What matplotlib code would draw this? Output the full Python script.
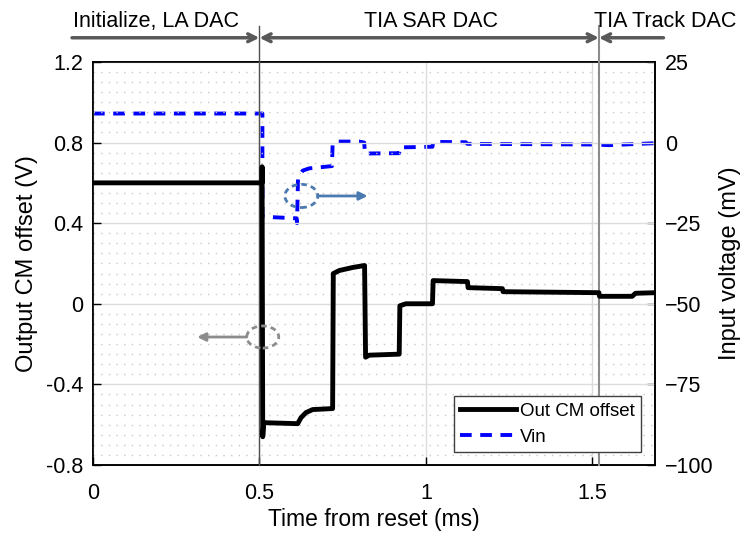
import matplotlib
matplotlib.use("Agg")
import matplotlib.pyplot as plt
from matplotlib.patches import Ellipse
from matplotlib.ticker import MultipleLocator

plt.rcParams['font.family'] = ['Liberation Sans', 'DejaVu Sans']

# Out CM offset (V), left axis
t_cm = [0, 0.508, 0.508, 0.510, 0.513, 0.615, 0.625, 0.64, 0.66, 0.72,
        0.722, 0.74, 0.78, 0.816, 0.819, 0.83, 0.92, 0.922, 0.94, 1.02,
        1.022, 1.125, 1.127, 1.23, 1.232, 1.52, 1.522, 1.62, 1.63, 1.69]
v_cm = [0.60, 0.60, 0.68, -0.66, -0.59, -0.595, -0.565, -0.54, -0.525, -0.52,
        0.15, 0.165, 0.18, 0.19, -0.265, -0.255, -0.25, -0.01, 0.0, 0.0,
        0.115, 0.11, 0.08, 0.075, 0.06, 0.055, 0.037, 0.037, 0.052, 0.055]

# Vin (mV), right axis
t_vin = [0, 0.509, 0.509, 0.612, 0.613, 0.616, 0.63, 0.65, 0.718, 0.72,
         0.73, 0.80, 0.815, 0.817, 0.92, 0.922, 1.02, 1.022, 1.12, 1.125,
         1.5, 1.55, 1.62, 1.69]
v_vin = [9, 9, -23, -23.5, -25, -11, -8.7, -8, -7.3, -0.3,
         0.3, 0.3, 0, -3.4, -3.3, -1.5, -1.3, 0.2, 0.1, -0.4,
         -0.6, -0.8, -0.5, -0.2]

phase_labels = ["Initialize, LA DAC", "TIA SAR DAC", "TIA Track DAC"]
phase_edges = [0.5, 1.52]

fig = plt.figure(figsize=(7.44, 5.41), dpi=100)
ax = fig.add_axes([0.125, 0.1405, 0.756, 0.745])
ax2 = ax.twinx()

ax.set_xlim(0, 1.69)
ax.set_ylim(-0.8, 1.2)
ax2.set_ylim(-100, 25)
ax.set_xticks([0, 0.5, 1, 1.5])
ax.set_xticklabels(["0", "0.5", "1", "1.5"])
ax.set_yticks([-0.8, -0.4, 0, 0.4, 0.8, 1.2])
ax.set_yticklabels(["-0.8", "-0.4", "0", "0.4", "0.8", "1.2"])
ax2.set_yticks([-100, -75, -50, -25, 0, 25])
ax.yaxis.set_minor_locator(MultipleLocator(0.05))

ax.grid(True, which='major', color='#dcdcdc', lw=1)
ax.grid(True, which='minor', axis='y', color='#c8c8c8', lw=1, linestyle=(0, (1, 4.5)))
ax.tick_params(which='minor', length=0)
for a in (ax, ax2):
    a.tick_params(direction='in', labelsize=15.5, length=6, width=1)
    for s in a.spines.values():
        s.set_linewidth(1.2)
ax.tick_params(axis='x', pad=13)
ax.tick_params(axis='y', pad=7)
ax2.tick_params(axis='y', pad=7)

ax.set_xlabel("Time from reset (ms)", fontsize=16.5, labelpad=3)
ax.set_ylabel("Output CM offset (V)", fontsize=17, labelpad=6)
ax2.set_ylabel("Input voltage (mV)", fontsize=17, labelpad=4)

# phase boundary lines
ax.axvline(phase_edges[0], ymin=0, ymax=1.09, color='#505050', lw=1, clip_on=False, zorder=3)
ax.axvline(phase_edges[1], ymin=0, ymax=1.09, color='#8c8c8c', lw=1.5, clip_on=False, zorder=3)

l1, = ax.plot(t_cm, v_cm, color='black', lw=3.5, zorder=5, label="Out CM offset")
l2, = ax2.plot(t_vin, v_vin, color='#0000ff', lw=2.8, linestyle=(0, (3, 2.2)),
               zorder=5, label="Vin")
ax.set_zorder(ax2.get_zorder() + 1)
ax.patch.set_visible(False)

# phase arrows along the top
ya = 1.06
arr = dict(color='#595959', lw=2.5, shrinkA=0, shrinkB=0, mutation_scale=14)
ax.annotate("", xy=(phase_edges[0], ya), xytext=(-0.063, ya), xycoords=('data', 'axes fraction'),
            arrowprops=dict(arrowstyle='->', **arr), annotation_clip=False)
ax.annotate("", xy=(phase_edges[1], ya), xytext=(phase_edges[0], ya), xycoords=('data', 'axes fraction'),
            arrowprops=dict(arrowstyle='<->', **arr), annotation_clip=False)
ax.annotate("", xy=(phase_edges[1], ya), xytext=(1.714, ya), xycoords=('data', 'axes fraction'),
            arrowprops=dict(arrowstyle='->', **arr), annotation_clip=False)
text_x = [0.19, 1.015, 1.72]
for lab, xx in zip(phase_labels, text_x):
    ax.text(xx, 1.075, lab, transform=ax.get_xaxis_transform(), ha='center', va='bottom',
            fontsize=15.5, clip_on=False)

# pointer ellipses
ax.add_patch(Ellipse((0.51, -0.165), 0.096, 0.11, fill=False, ec='#8c8c8c', lw=2,
                     linestyle=(0, (2, 1.5)), zorder=6))
ax.annotate("", xy=(0.313, -0.165), xytext=(0.462, -0.165),
            arrowprops=dict(arrowstyle='-|>', color='#8c8c8c', lw=2, shrinkA=0, shrinkB=0,
                            mutation_scale=12))
ax.add_patch(Ellipse((0.626, 0.535), 0.099, 0.115, fill=False, ec='#4a7ab0', lw=2,
                     linestyle=(0, (2, 1.5)), zorder=6))
ax.annotate("", xy=(0.825, 0.535), xytext=(0.675, 0.535),
            arrowprops=dict(arrowstyle='-|>', color='#4a7ab0', lw=2, shrinkA=0, shrinkB=0,
                            mutation_scale=12))

leg = ax.legend([l1, l2], ["Out CM offset", "Vin"], loc='lower right',
                bbox_to_anchor=(0.975, 0.032), borderaxespad=0, fontsize=13.5,
                fancybox=False, framealpha=1, edgecolor='#404040', handlelength=3.0,
                borderpad=0.35, labelspacing=0.45, handletextpad=0.2)
leg.get_frame().set_linewidth(1)

fig.savefig("out.png", dpi=100)
